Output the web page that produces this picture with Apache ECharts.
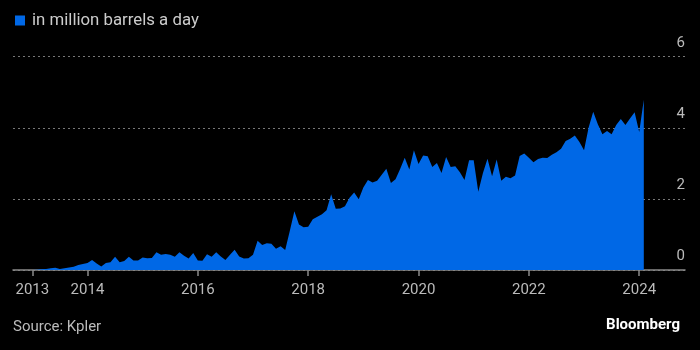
<!DOCTYPE html>
<html>
<head>
<meta charset="utf-8">
<script src="https://cdn.jsdelivr.net/npm/echarts@6/dist/echarts.min.js"></script>
<style>
html,body{margin:0;padding:0;background:#000;}
#chart{width:700px;height:350px;}
</style>
</head>
<body>
<div id="chart"></div>
<script>
// Monthly series starting January 2013
const startYear = 2013;
const seriesName = 'in million barrels a day';
const values = [
  0.0, 0.01, 0.02, 0.03, 0.05, 0.06, 0.03, 0.05, 0.07, 0.09, 0.14, 0.17,
  0.2, 0.28, 0.18, 0.1, 0.2, 0.22, 0.37, 0.22, 0.25, 0.37, 0.27, 0.27,
  0.35, 0.33, 0.34, 0.5, 0.43, 0.45, 0.43, 0.37, 0.5, 0.4, 0.32, 0.48,
  0.27, 0.26, 0.44, 0.37, 0.5, 0.38, 0.28, 0.43, 0.57, 0.38, 0.32, 0.33,
  0.43, 0.82, 0.7, 0.75, 0.74, 0.6, 0.67, 0.56, 1.1, 1.65, 1.28, 1.2,
  1.22, 1.43, 1.5, 1.57, 1.68, 2.13, 1.72, 1.73, 1.79, 2.03, 2.18, 1.99,
  2.32, 2.53, 2.46, 2.51, 2.68, 2.85, 2.45, 2.55, 2.84, 3.16, 2.83, 3.37,
  2.98, 3.22, 3.2, 2.9, 3.01, 2.73, 3.18, 2.9, 2.92, 2.75, 2.53, 3.09,
  3.09, 2.2, 2.72, 3.13, 2.64, 3.11, 2.51, 2.62, 2.58, 2.66, 3.21, 3.28,
  3.16, 3.03, 3.12, 3.16, 3.15, 3.24, 3.31, 3.41, 3.63, 3.69, 3.78, 3.6,
  3.37, 4.01, 4.45, 4.1, 3.82, 3.91, 3.82, 4.08, 4.25, 4.08, 4.26, 4.44,
  3.88, 4.79
];
const xTickYears = [2013, 2014, 2016, 2018, 2020, 2022, 2024];
const yTicks = [0, 2, 4, 6];

const data = values.map((v, i) => [startYear + i / 12, v]);

const chart = echarts.init(document.getElementById('chart'), null, {renderer: 'canvas'});
const FONT = 'Roboto';
chart.setOption({
  backgroundColor: '#000',
  animation: false,
  textStyle: {fontFamily: FONT},
  legend: {
    left: 15, top: 12, padding: 0,
    icon: 'rect', itemWidth: 10, itemHeight: 10, itemGap: 10,
    textStyle: {color: '#cccccc', fontSize: 16.8, fontFamily: FONT, padding: [0,0,0,2]},
    data: [seriesName]
  },
  grid: {left: 13, right: 15, top: 56.7, bottom: 80, containLabel: false, outerBoundsMode: 'none'},
  xAxis: {
    type: 'value',
    min: 2012.65, max: 2024.83,
    axisLine: {show: true, lineStyle: {color: '#8a8a8a', width: 1.5}},
    axisTick: {show: true, customValues: xTickYears, length: 6, lineStyle: {color: '#8a8a8a', width: 1.5}},
    axisLabel: {customValues: xTickYears, color: '#bbbbbb', fontSize: 15, margin: 13, fontFamily: FONT,
      formatter: v => String(Math.round(v))},
    splitLine: {show: false}
  },
  yAxis: {
    type: 'value', position: 'right',
    min: 0, max: 6, interval: 2,
    axisLine: {show: false}, axisTick: {show: false},
    axisLabel: {inside: true, margin: 0, color: '#bbbbbb', fontSize: 15, fontFamily: FONT,
      verticalAlign: 'bottom', padding: [0, 0, 6, 0], customValues: yTicks},
    splitLine: {show: true, lineStyle: {color: '#777777', type: [2, 3], width: 1}}
  },
  series: [{
    name: seriesName,
    type: 'line',
    data: data,
    symbol: 'none',
    color: '#0068e6',
    lineStyle: {width: 0},
    areaStyle: {color: '#0068e6', opacity: 1},
    z: 3
  }],
  graphic: [
    {type: 'text', left: 13, top: 320, style: {text: 'Source: Kpler', fill: '#bbbbbb', font: '15px ' + FONT}},
    {type: 'text', right: 20, top: 318, style: {text: 'Bloomberg', fill: '#ffffff', font: 'bold 15px ' + FONT}}
  ]
});
</script>
</body>
</html>
